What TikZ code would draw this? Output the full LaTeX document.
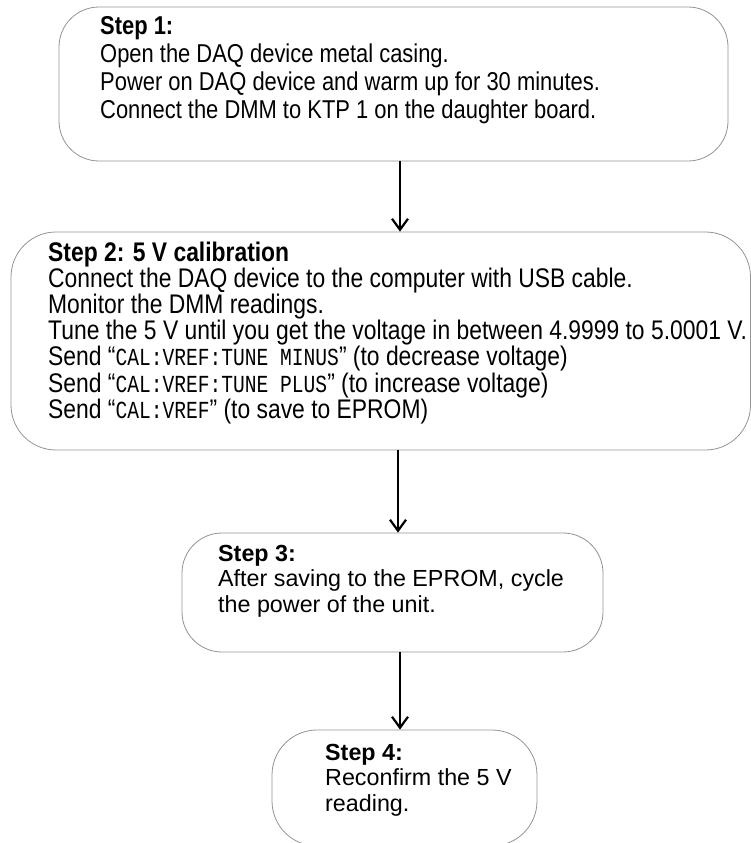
\documentclass[tikz,border=0pt]{standalone}
\usepackage{fontspec}
\usetikzlibrary{arrows.meta}
\setmainfont{Liberation Sans}
\newfontfamily\condfont{Liberation Sans}[FakeStretch=0.85]
\newfontfamily\condmono{Liberation Mono}[FakeStretch=0.8]
\newcommand{\cmd}[1]{{\condmono\fontsize{24.5}{24}\selectfont #1}}

\tikzset{
  stepbox/.style={draw=gray!85, line width=0.8pt, rounded corners=40pt, inner sep=0pt},
  widetext/.style={anchor=north west, align=left, inner sep=0pt},
  narrowtext/.style={anchor=north west, align=left, inner sep=0pt,
    font=\fontsize{23.3}{25.5}\selectfont},
  flow/.style={-{Straight Barb[length=11pt,width=16pt]}, line width=2.2pt},
}

\begin{document}
\begin{tikzpicture}[x=1pt,y=-1pt]
  \useasboundingbox (0,0) rectangle (751,843);

  % Draw the step boxes
  \node[stepbox, minimum width=669pt, minimum height=154pt] (s1) at (393.5,84) {};
  \node[stepbox, minimum width=739.5pt, minimum height=218pt, rounded corners=45pt] (s2) at (380.75,341) {};
  \node[stepbox, minimum width=421pt, minimum height=119pt] (s3) at (392.5,592.5) {};
  \node[stepbox, minimum width=265pt, minimum height=116pt, rounded corners=45pt] (s4) at (404.5,788) {};

  % Write the texts
  \node[widetext, font=\condfont\fontsize{25.8}{28}\selectfont] (t1) at (100,16) {\textbf{Step 1:}\\
    Open the DAQ device metal casing.\\
    Power on DAQ device and warm up for 30 minutes.\\
    Connect the DMM to KTP 1 on the daughter board.};
  \node[widetext, font=\condfont\fontsize{26.9}{24}\selectfont] (t2) at (48,242) {\textbf{Step 2: 5 V calibration}\\
    Connect the DAQ device to the computer with USB cable.\\
    Monitor the DMM readings.\\
    Tune the 5 V until you get the voltage in between 4.9999 to 5.0001 V.\\
    Send “\cmd{CAL:VREF:TUNE MINUS}” (to decrease voltage)\\
    Send “\cmd{CAL:VREF:TUNE PLUS}” (to increase voltage)\\
    Send “\cmd{CAL:VREF}” (to save to EPROM)};
  \node[narrowtext] (t3) at (218,545) {\textbf{Step 3:}\\
    After saving to the EPROM, cycle\\
    the power of the unit.};
  \node[narrowtext] (t4) at (325,744) {\textbf{Step 4:}\\
    Reconfirm the 5 V\\
    reading.};

  % Draw the arrows
  \draw[flow] ([xshift=6.5pt]s1.south) coordinate (a1) -- (a1 |- s2.north);
  \draw[flow] ([xshift=17.25pt]s2.south) coordinate (a2) -- (a2 |- s3.north);
  \draw[flow] ([xshift=7.5pt]s3.south) coordinate (a3) -- (a3 |- s4.north);

\end{tikzpicture}
\end{document}
